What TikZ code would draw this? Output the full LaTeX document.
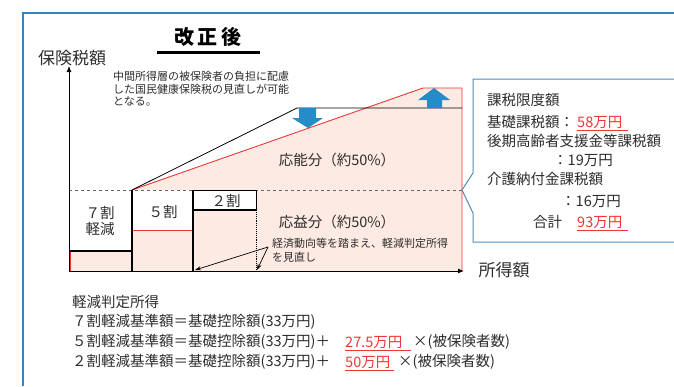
\documentclass[tikz,border=0pt]{standalone}
\usepackage{fontspec}
\newfontfamily\jp{Noto Sans CJK JP}
\usetikzlibrary{arrows.meta}
\definecolor{frameblue}{RGB}{46,134,200}
\definecolor{arrowblue}{RGB}{38,140,200}
\definecolor{pinkfill}{RGB}{253,234,226}
\definecolor{redline}{RGB}{235,55,55}
\definecolor{callblue}{RGB}{80,140,180}
\definecolor{txt}{RGB}{45,45,45}
\tikzset{
  lbl/.style={font=\jp\fontsize{14.5}{17}\selectfont, text=txt, inner sep=0pt},
  small/.style={font=\jp\fontsize{11}{12.7}\selectfont, text=txt, inner sep=0pt, align=left},
  big/.style={font=\jp\fontsize{17}{20}\selectfont, text=txt, inner sep=0pt},
  redtxt/.style={lbl, text=redline},
  uline/.style={draw=redline, line width=0.9pt},
  bluearrow/.style={fill=arrowblue, draw=none},
}
\begin{document}
\begin{tikzpicture}[x=1pt,y=-1pt]
\useasboundingbox (0,0) rectangle (674,386);
% frame
\draw[frameblue, line width=2pt] (23,386) -- (23,13) -- (674,13);
% title
\node[font=\jp\bfseries\fontsize{20}{24}\selectfont, inner sep=0pt] (title) at (208,37) {改\,正\,後};
\draw[line width=3pt] (157,52) -- (260,52);
% axis labels
\node[big] (ylab) at (72,58) {保険税額};
\node[big] (xlab) at (504,270) {所得額};
% pink region
\fill[pinkfill] (69,271) -- (69,190) -- (132,190) -- (423,88) -- (462,88) -- (462,271) -- cycle;
% white boxes
\fill[white] (69,190) rectangle (132,251);
\fill[white] (132,190) rectangle (193,230);
\fill[white] (193,190) rectangle (256,210);
% red outline
\draw[redline, line width=0.9pt] (132,190) -- (423,88) -- (462,88) -- (462,271);
\draw[redline, line width=0.8pt] (70,251) -- (70,271);
% dashed level
\draw[gray!80!black, dashed, line width=1pt, dash pattern=on 3pt off 3pt] (69,190) -- (462,190);
% box borders
\draw[line width=1.2pt] (69,251) -- (132,251);
\draw[redline, line width=1pt] (132,230) -- (193,230);
\draw[line width=1.2pt] (193,210) -- (256,210);
\draw[line width=1pt] (193,190) -- (256,190);
\draw[line width=1.3pt] (132,190) -- (132,271);
\draw[line width=1.1pt] (193,190) -- (193,271);
\draw[line width=1pt] (256,190) -- (256,210);
\draw[line width=0.9pt, densely dotted] (256,210) -- (256,271);
% old line
\draw[line width=0.8pt] (132,190) -- (297,108) -- (462,108);
% blue arrows
\fill[bluearrow] (299,108) -- (316,108) -- (316,118) -- (323,118) -- (308,128) -- (292,118) -- (299,118) -- cycle;
\fill[bluearrow] (427,108) -- (442,108) -- (442,100) -- (450,100) -- (434,88) -- (418,100) -- (427,100) -- cycle;
% axes
\coordinate (O) at (69,271);
\coordinate (ytop) at (69,66);
\coordinate (xend) at (464,271);
\draw[line width=0.8pt, -{Latex[length=6pt,width=5pt]}] (O) -- (ytop);
\draw[line width=1pt, -{Latex[length=6pt,width=5pt]}] (O) -- (xend);
% chart labels
\node[lbl, align=center, font=\jp\fontsize{14.5}{16.5}\selectfont] (b7) at (100,221) {７割\\軽減};
\node[lbl] (b5) at (163,212) {５割};
\node[lbl] (b2) at (226,201) {２割};
\node[lbl] (ono) at (337,160) {応能分（約50\%）};
\node[lbl] (oeki) at (337,222) {応益分（約50\%）};
\node[small, anchor=west] (note) at (113,89) {中間所得層の被保険者の負担に配慮\\した国民健康保険税の見直しが可能\\となる。};
\node[small, anchor=west, font=\jp\fontsize{11}{14}\selectfont] (econ) at (272,250) {経済動向等を踏まえ、軽減判定所得\\を見直し};
\coordinate (t1) at (195,270);
\coordinate (t2) at (257,270);
\draw[line width=0.7pt, -{Stealth[length=6pt,width=4pt]}] ([xshift=-4pt,yshift=3pt]econ.west) -- (t1);
\draw[line width=0.7pt, -{Stealth[length=6pt,width=4pt]}] ([xshift=-4pt,yshift=3pt]econ.west) -- (t2);
% callout
\draw[callblue, line width=1pt, fill=white] (473,79) -- (676,79) -- (676,242) -- (473,242) -- (473,213) -- (462,190) -- (473,173) -- cycle;
\node[lbl, anchor=west] (c1) at (487,100) {課税限度額};
\node[lbl, anchor=west] (c2) at (487,122) {基礎課税額：};
\node[redtxt, anchor=west] (r58) at (577,122) {58万円};
\draw[uline] ([yshift=-2pt]r58.south west) -- ([xshift=5pt,yshift=-2pt]r58.south east);
\node[lbl, anchor=west] (c3) at (487,141) {後期高齢者支援金等課税額};
\node[lbl, anchor=west] (c4) at (553,160) {：19万円};
\node[lbl, anchor=west] (c5) at (487,179) {介護納付金課税額};
\node[lbl, anchor=west] (c6) at (561,201) {：16万円};
\node[lbl, anchor=west] (c7) at (533,222) {合計};
\node[redtxt, anchor=west] (r93) at (577,222) {93万円};
\draw[uline] ([yshift=-2pt]r93.south west) -- ([xshift=5pt,yshift=-2pt]r93.south east);
% bottom text
\node[lbl, anchor=west] (k0) at (72,302) {軽減判定所得};
\node[lbl, anchor=west] (k1) at (72,322) {７割軽減基準額＝基礎控除額(33万円)};
\node[lbl, anchor=west] (k2) at (72,342) {５割軽減基準額＝基礎控除額(33万円)＋};
\node[redtxt, anchor=west] (r275) at (345,342) {27.5万円};
\draw[uline] ([yshift=-2pt]r275.south west) -- ([xshift=8pt,yshift=-2pt]r275.south east);
\node[lbl, anchor=west] (k2b) at (413,342) {×(被保険者数)};
\node[lbl, anchor=west] (k3) at (72,362) {２割軽減基準額＝基礎控除額(33万円)＋};
\node[redtxt, anchor=west] (r50) at (345,362) {50万円};
\draw[uline] ([yshift=-2pt]r50.south west) -- ([xshift=3pt,yshift=-2pt]r50.south east);
\node[lbl, anchor=west] (k3b) at (398,362) {×(被保険者数)};
\end{tikzpicture}
\end{document}
